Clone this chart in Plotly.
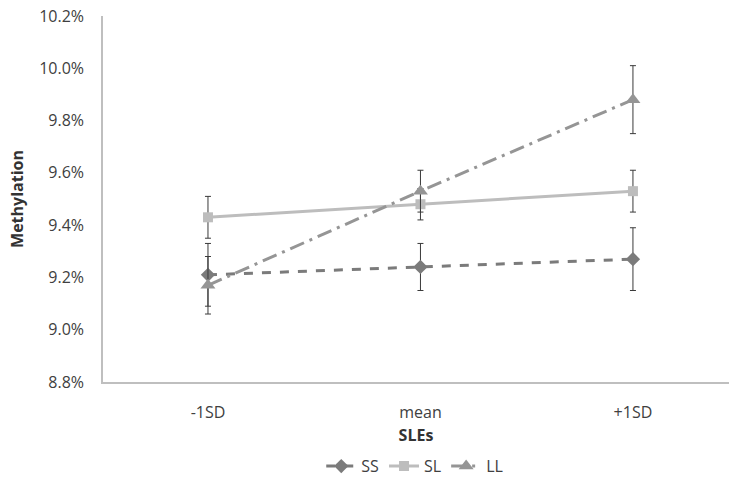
import plotly.graph_objects as go

# Methylation (%) at three levels of stressful life events, by genotype
categories = ["-1SD", "mean", "+1SD"]
ss_values = [9.21, 9.24, 9.27]
ss_errors = [0.12, 0.09, 0.12]
sl_values = [9.43, 9.48, 9.53]
sl_errors = [0.08, 0.06, 0.08]
ll_values = [9.17, 9.53, 9.88]
ll_errors = [0.11, 0.08, 0.13]
y_ticks = [8.8, 9.0, 9.2, 9.4, 9.6, 9.8, 10.0, 10.2]

FONT = "Open Sans"
x_pos = list(range(len(categories)))


def pct(vals):
    return [v / 100 for v in vals]


def series(name, values, errors, color, dash, symbol, size):
    return go.Scatter(
        x=x_pos,
        y=pct(values),
        name=name,
        mode="lines+markers",
        line=dict(color=color, width=3, dash=dash),
        marker=dict(symbol=symbol, size=size, color=color),
        error_y=dict(
            type="data",
            array=pct(errors),
            visible=True,
            color="#3a3a3a",
            thickness=1,
            width=3,
        ),
    )


fig = go.Figure()
fig.add_trace(series("SS", ss_values, ss_errors, "#7b7b7b", "dash", "diamond", 11))
fig.add_trace(series("SL", sl_values, sl_errors, "#bdbdbd", "solid", "square", 10))
fig.add_trace(series("LL", ll_values, ll_errors, "#959595", "longdashdot", "triangle-up", 13))

fig.update_layout(
    width=729,
    height=486,
    margin=dict(l=103, r=0, t=16, b=104),
    paper_bgcolor="white",
    plot_bgcolor="white",
    font=dict(family=FONT, size=16, color="#404040"),
    showlegend=True,
    legend=dict(
        orientation="h",
        x=0.498,
        xanchor="center",
        y=-0.23,
        yanchor="middle",
        font=dict(size=16, color="#404040"),
        itemwidth=30,
        tracegroupgap=0,
    ),
    xaxis=dict(
        range=[-0.494, 2.452],
        tickmode="array",
        tickvals=x_pos,
        ticktext=categories,
        showgrid=False,
        zeroline=False,
        showline=True,
        linecolor="#bfbfbf",
        linewidth=1.5,
        ticks="",
        ticklabelstandoff=15,
        tickfont=dict(size=16, color="#404040"),
        title=dict(text="<b>SLEs</b>", font=dict(size=16, color="#333333"), standoff=8),
    ),
    yaxis=dict(
        range=[0.088, 0.102],
        tickmode="array",
        tickvals=pct(y_ticks),
        tickformat=".1%",
        showgrid=False,
        zeroline=False,
        showline=True,
        linecolor="#bfbfbf",
        linewidth=1.5,
        ticks="",
        ticklabelstandoff=14,
        tickfont=dict(size=16, color="#404040"),
        title=dict(text="<b>Methylation</b>", font=dict(size=16, color="#333333"), standoff=12),
    ),
)

fig.write_html("out.html")
